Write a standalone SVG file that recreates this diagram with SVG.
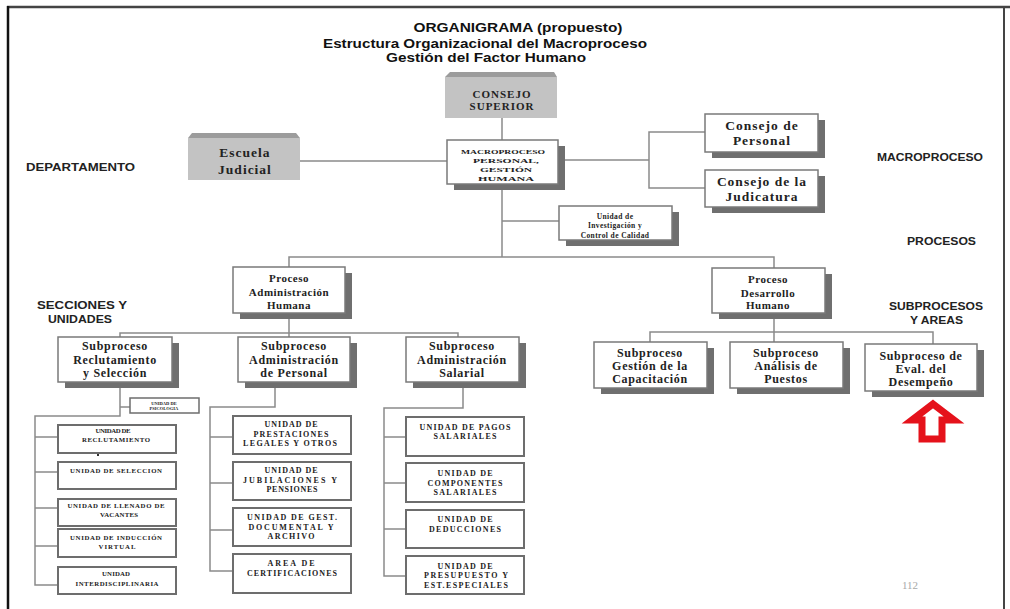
<svg xmlns="http://www.w3.org/2000/svg" width="1010" height="609" viewBox="0 0 1010 609">
<style>
.box{fill:#fff;stroke:#7a7a7a;stroke-width:1.5}
.sh{fill:#6f6f6f}
.unit{fill:#fff;stroke:#6d6d6d;stroke-width:2}
.gray{fill:#c3c3c3}
.bevel{fill:#9c9c9c}
.conn line,.conn path{stroke:#8a8a8a;stroke-width:1.5;fill:none}
.t{font-family:"Liberation Serif","Times New Roman",serif;font-weight:bold;fill:#222;text-anchor:middle}
.lab{font-family:"Liberation Sans",Arial,sans-serif;font-weight:bold;fill:#222}
.title{font-family:"Liberation Sans",Arial,sans-serif;font-weight:bold;fill:#111;text-anchor:middle;font-size:13px}
.s12{font-size:12px;letter-spacing:0.7px}
.s11{font-size:11px;letter-spacing:0.5px}
.s13{font-size:13.5px;letter-spacing:1px}
.u8{font-size:8px}
.u6{font-size:6.8px}
</style>
<rect x="0" y="0" width="1010" height="609" fill="#fff"/>
<g id="frame">
<line x1="7" y1="7" x2="1010" y2="7" stroke="#444" stroke-width="2.5"/>
<line x1="8" y1="6" x2="8" y2="609" stroke="#111" stroke-width="2.5"/>
<line x1="1004" y1="6" x2="1004" y2="609" stroke="#444" stroke-width="2"/>
</g>
<g id="title">
<text class="title" x="518" y="32" textLength="209" lengthAdjust="spacingAndGlyphs">ORGANIGRAMA (propuesto)</text>
<text class="title" x="485" y="48" textLength="324" lengthAdjust="spacingAndGlyphs">Estructura Organizacional del Macroproceso</text>
<text class="title" x="486" y="62" textLength="200" lengthAdjust="spacingAndGlyphs">Gestión del Factor Humano</text>
</g>
<g id="labels">
<text class="lab" x="26" y="171" font-size="10" textLength="109" lengthAdjust="spacingAndGlyphs">DEPARTAMENTO</text>
<text class="lab" x="37" y="309" font-size="10" textLength="90" lengthAdjust="spacingAndGlyphs">SECCIONES Y</text>
<text class="lab" x="48" y="323" font-size="10" textLength="64" lengthAdjust="spacingAndGlyphs">UNIDADES</text>
<text class="lab" x="877" y="161" font-size="10" textLength="106" lengthAdjust="spacingAndGlyphs">MACROPROCESO</text>
<text class="lab" x="907" y="245" font-size="10" textLength="69" lengthAdjust="spacingAndGlyphs">PROCESOS</text>
<text class="lab" x="889" y="310" font-size="10" textLength="94" lengthAdjust="spacingAndGlyphs">SUBPROCESOS</text>
<text class="lab" x="910" y="324" font-size="10" textLength="53" lengthAdjust="spacingAndGlyphs">Y AREAS</text>
<text x="902" y="589" font-family="Liberation Serif, serif" font-size="11" fill="#a8a8a8">112</text>
</g>
<g class="conn" id="connectors">
<line x1="502" y1="118" x2="502" y2="140"/>
<line x1="502" y1="184" x2="502" y2="257"/>
<line x1="300" y1="161" x2="447" y2="161"/>
<line x1="558" y1="160" x2="649" y2="160"/>
<path d="M705,132 H649 V188 H705"/>
<line x1="502" y1="221" x2="559" y2="221"/>
<path d="M289,267 V257 H774 V268"/>
<line x1="289" y1="313" x2="289" y2="337"/>
<path d="M120,337 V333 H458 V337"/>
<line x1="774" y1="313" x2="774" y2="342"/>
<path d="M650,342 V332 H933 V344"/>
<path d="M120,382 V416 H35 V585 H58"/>
<line x1="120" y1="407" x2="130" y2="407"/>
<line x1="35" y1="437" x2="58" y2="437"/>
<line x1="35" y1="472" x2="58" y2="472"/>
<line x1="35" y1="508" x2="58" y2="508"/>
<line x1="35" y1="546" x2="58" y2="546"/>
<path d="M275,382 V407 H210 V571 H233"/>
<line x1="210" y1="437" x2="233" y2="437"/>
<line x1="210" y1="483" x2="233" y2="483"/>
<line x1="210" y1="530" x2="233" y2="530"/>
<path d="M463,382 V408 H384 V576 H406"/>
<line x1="384" y1="437" x2="406" y2="437"/>
<line x1="384" y1="483" x2="406" y2="483"/>
<line x1="384" y1="529" x2="406" y2="529"/>
<line x1="98" y1="443" x2="98" y2="456" style="stroke:#333;stroke-width:2"/>
</g>
<g id="consejo-superior">
<polygon class="bevel" points="450,72 554,72 557,77 445,77"/>
<rect class="gray" x="445" y="77" width="112" height="41"/>
<text class="t" x="502" y="98" font-size="11" letter-spacing="1">CONSEJO</text>
<text class="t" x="502" y="110" font-size="11" letter-spacing="1">SUPERIOR</text>
</g>
<g id="escuela-judicial">
<polygon class="bevel" points="192,133 296,133 300,138 188,138"/>
<rect class="gray" x="188" y="138" width="112" height="42"/>
<text class="t s13" x="245" y="157">Escuela</text>
<text class="t s13" x="245" y="174">Judicial</text>
</g>
<g id="macroproceso">
<rect class="sh" x="454" y="146" width="111" height="44"/>
<rect class="box" x="447" y="140" width="111" height="44"/>
<text class="t" x="503" y="153.5" font-size="7" textLength="84" lengthAdjust="spacingAndGlyphs">MACROPROCESO</text>
<text class="t" x="506" y="162.5" font-size="7" textLength="66" lengthAdjust="spacingAndGlyphs">PERSONAL,</text>
<text class="t" x="506" y="171.5" font-size="7" textLength="52" lengthAdjust="spacingAndGlyphs">GESTIÓN</text>
<text class="t" x="506" y="180.5" font-size="7" textLength="56" lengthAdjust="spacingAndGlyphs">HUMANA</text>
</g>
<g id="consejo-personal">
<rect class="sh" x="712" y="120" width="113" height="38"/>
<rect class="box" x="705" y="114" width="113" height="38"/>
<text class="t s13" x="762" y="130">Consejo de</text>
<text class="t s13" x="762" y="145">Personal</text>
</g>
<g id="consejo-judicatura">
<rect class="sh" x="712" y="176" width="113" height="37"/>
<rect class="box" x="705" y="170" width="113" height="37"/>
<text class="t s13" x="762" y="186">Consejo de la</text>
<text class="t s13" x="762" y="201">Judicatura</text>
</g>
<g id="unidad-investigacion">
<rect class="sh" x="566" y="212" width="113" height="34"/>
<rect class="box" x="559" y="206" width="113" height="34"/>
<text class="t" x="615" y="219" font-size="7.5" letter-spacing="0.4">Unidad de</text>
<text class="t" x="615" y="228" font-size="7.5" letter-spacing="0.4">Investigación  y</text>
<text class="t" x="615" y="237.5" font-size="7.5" letter-spacing="0.4">Control de Calidad</text>
</g>
<g id="proceso-admin-humana">
<rect class="sh" x="240" y="273" width="112" height="46"/>
<rect class="box" x="233" y="267" width="112" height="46"/>
<text class="t s11" x="289" y="282">Proceso</text>
<text class="t s11" x="289" y="296">Administración</text>
<text class="t s11" x="289" y="309">Humana</text>
</g>
<g id="proceso-desarrollo-humano">
<rect class="sh" x="719" y="274" width="113" height="45"/>
<rect class="box" x="712" y="268" width="113" height="45"/>
<text class="t s11" x="768" y="283">Proceso</text>
<text class="t s11" x="768" y="297">Desarrollo</text>
<text class="t s11" x="768" y="309">Humano</text>
</g>
<g id="sub-reclutamiento">
<rect class="sh" x="65" y="343" width="114" height="45"/>
<rect class="box" x="58" y="337" width="114" height="45"/>
<text class="t s12" x="115" y="350">Subproceso</text>
<text class="t s12" x="115" y="364">Reclutamiento</text>
<text class="t s12" x="115" y="377">y Selección</text>
</g>
<g id="sub-admin-personal">
<rect class="sh" x="245" y="343" width="112" height="45"/>
<rect class="box" x="238" y="337" width="112" height="45"/>
<text class="t s12" x="294" y="350">Subproceso</text>
<text class="t s12" x="294" y="364">Administración</text>
<text class="t s12" x="294" y="377">de Personal</text>
</g>
<g id="sub-admin-salarial">
<rect class="sh" x="413" y="343" width="113" height="45"/>
<rect class="box" x="406" y="337" width="113" height="45"/>
<text class="t s12" x="462" y="350">Subproceso</text>
<text class="t s12" x="462" y="364">Administración</text>
<text class="t s12" x="462" y="377">Salarial</text>
</g>
<g id="sub-capacitacion">
<rect class="sh" x="601" y="348" width="113" height="46"/>
<rect class="box" x="594" y="342" width="113" height="46"/>
<text class="t s12" x="650" y="357">Subproceso</text>
<text class="t s12" x="650" y="370">Gestión de la</text>
<text class="t s12" x="650" y="383">Capacitación</text>
</g>
<g id="sub-analisis">
<rect class="sh" x="737" y="348" width="113" height="46"/>
<rect class="box" x="730" y="342" width="113" height="46"/>
<text class="t s12" x="786" y="357">Subproceso</text>
<text class="t s12" x="786" y="370">Análisis  de</text>
<text class="t s12" x="786" y="383">Puestos</text>
</g>
<g id="sub-evaluacion">
<rect class="sh" x="872" y="350" width="112" height="47"/>
<rect class="box" x="865" y="344" width="112" height="47"/>
<text class="t s12" x="921" y="360">Subproceso de</text>
<text class="t s12" x="921" y="373">Eval. del</text>
<text class="t s12" x="921" y="386">Desempeño</text>
</g>
<g id="red-arrow">
<path d="M933,404 L954,420 L942,420 L942,439 L922,439 L922,420 L912,420 Z" fill="#fff" stroke="#e5121b" stroke-width="7" stroke-linejoin="miter"/>
</g>
<g id="u-psicologia">
<rect class="unit" x="130" y="398" width="69" height="15" style="stroke-width:1.5"/>
<text class="t" x="164" y="404.5" font-size="4.5">UNIDAD DE</text>
<text class="t" x="164" y="410" font-size="4.5">PSICOLOGIA</text>
</g>
<g id="u-reclutamiento">
<rect class="unit" x="58" y="425" width="118" height="28"/>
<text class="t u6" x="113" y="433" textLength="35">UNIDAD DE</text>
<text class="t u6" x="116" y="442" textLength="68">RECLUTAMIENTO</text>
</g>
<g id="u-seleccion">
<rect class="unit" x="58" y="462" width="118" height="27"/>
<text class="t u6" x="116" y="473" textLength="92">UNIDAD DE SELECCION</text>
</g>
<g id="u-llenado">
<rect class="unit" x="58" y="499" width="118" height="27"/>
<text class="t u6" x="116" y="508" textLength="97">UNIDAD DE LLENADO DE</text>
<text class="t u6" x="119" y="517" textLength="38">VACANTES</text>
</g>
<g id="u-induccion">
<rect class="unit" x="58" y="529" width="118" height="28"/>
<text class="t u6" x="116" y="540" textLength="92">UNIDAD DE INDUCCIÓN</text>
<text class="t u6" x="117" y="549" textLength="37">VIRTUAL</text>
</g>
<g id="u-interdisciplinaria">
<rect class="unit" x="58" y="567" width="118" height="27"/>
<text class="t u6" x="116" y="576" textLength="28">UNIDAD</text>
<text class="t u6" x="117" y="586" textLength="83">INTERDISCIPLINARIA</text>
</g>
<g id="u-prestaciones">
<rect class="unit" x="233" y="416" width="118" height="38"/>
<text class="t u8" x="291" y="427" textLength="53">UNIDAD DE</text>
<text class="t u8" x="291" y="437" textLength="75">PRESTACIONES</text>
<text class="t u8" x="290" y="446" textLength="94">LEGALES Y OTROS</text>
</g>
<g id="u-jubilaciones">
<rect class="unit" x="233" y="462" width="118" height="38"/>
<text class="t u8" x="291" y="473" textLength="53">UNIDAD DE</text>
<text class="t u8" x="290" y="483" textLength="94">JUBILACIONES Y</text>
<text class="t u8" x="292" y="492" textLength="51">PENSIONES</text>
</g>
<g id="u-gestion-documental">
<rect class="unit" x="233" y="508" width="118" height="38"/>
<text class="t u8" x="292" y="520" textLength="90">UNIDAD DE GEST.</text>
<text class="t u8" x="291" y="530" textLength="85">DOCUMENTAL  Y</text>
<text class="t u8" x="291" y="539" textLength="47">ARCHIVO</text>
</g>
<g id="u-certificaciones">
<rect class="unit" x="233" y="554" width="118" height="39"/>
<text class="t u8" x="291" y="566" textLength="47">AREA DE</text>
<text class="t u8" x="292" y="576" textLength="90">CERTIFICACIONES</text>
</g>
<g id="u-pagos">
<rect class="unit" x="406" y="417" width="118" height="39"/>
<text class="t u8" x="465" y="430" textLength="91">UNIDAD DE PAGOS</text>
<text class="t u8" x="465" y="439" textLength="63">SALARIALES</text>
</g>
<g id="u-componentes">
<rect class="unit" x="406" y="463" width="118" height="39"/>
<text class="t u8" x="465" y="476" textLength="55">UNIDAD DE</text>
<text class="t u8" x="465" y="486" textLength="75">COMPONENTES</text>
<text class="t u8" x="465" y="495" textLength="63">SALARIALES</text>
</g>
<g id="u-deducciones">
<rect class="unit" x="406" y="510" width="118" height="38"/>
<text class="t u8" x="465" y="522" textLength="55">UNIDAD DE</text>
<text class="t u8" x="465" y="532" textLength="72">DEDUCCIONES</text>
</g>
<g id="u-presupuesto">
<rect class="unit" x="406" y="556" width="118" height="38"/>
<text class="t u8" x="465" y="569" textLength="55">UNIDAD DE</text>
<text class="t u8" x="466" y="578" textLength="84">PRESUPUESTO Y</text>
<text class="t u8" x="466" y="588" textLength="84">EST.ESPECIALES</text>
</g>
</svg>
